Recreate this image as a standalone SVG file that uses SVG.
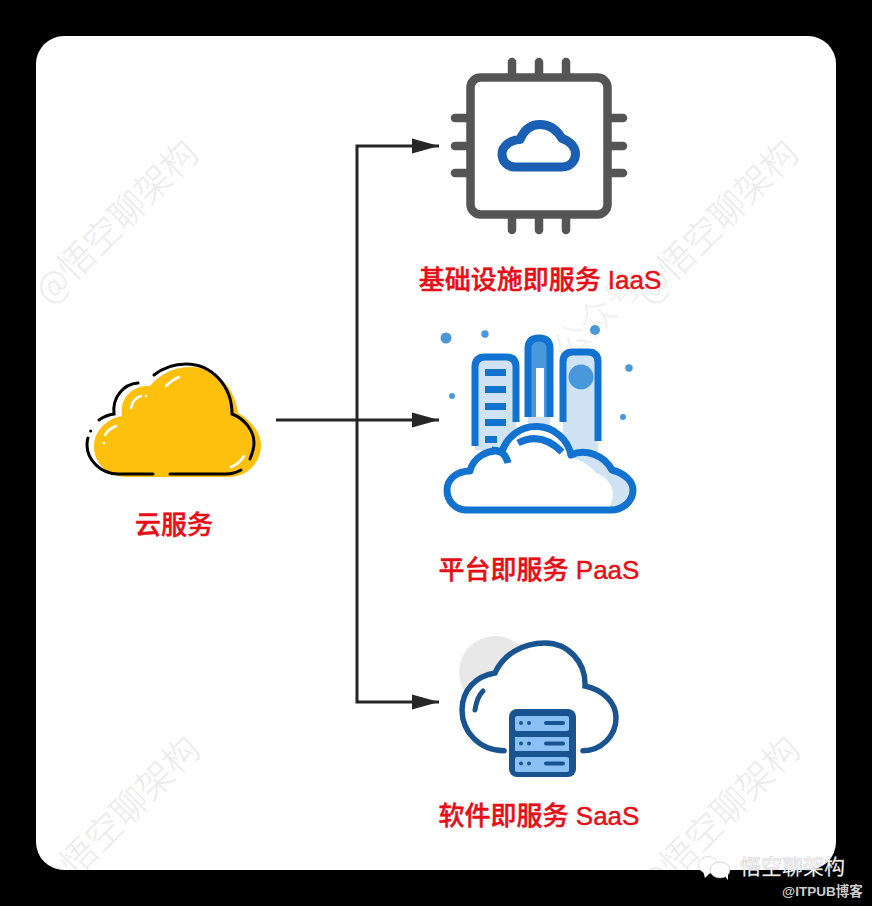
<svg xmlns="http://www.w3.org/2000/svg" width="872" height="906" viewBox="0 0 872 906">
<style>
.lbl{font-family:"Liberation Sans","Noto Sans CJK SC",sans-serif;font-size:26px;font-weight:500;fill:#e60f17;stroke:#e60f17;stroke-width:.45;text-anchor:middle}
.wm{font-family:"Noto Sans CJK SC",sans-serif;font-size:36px;font-weight:300;fill:#ebebeb}
.conn{fill:none;stroke:#262626;stroke-width:3}
.pin{stroke:#555;stroke-width:8.5;stroke-linecap:round;fill:none}
.pb{fill:none;stroke:#1272cf;stroke-width:7}
.bar{fill:#1272cf}
.dot{fill:#4a98dc}
.ink{fill:none;stroke:#000;stroke-width:3;stroke-linecap:round}
.hl{fill:none;stroke:#fff;stroke-width:2.5;stroke-linecap:round}
.row{fill:#8bc0f5}
.sd{fill:#1a5490}
.sl{fill:none;stroke:#1a5490;stroke-width:4;stroke-linecap:round}
</style>
<defs>
<marker id="arrow" markerUnits="userSpaceOnUse" markerWidth="28" markerHeight="18" refX="27" refY="9" orient="auto">
<path d="M0 1.500L27 9L0 16.500Z" fill="#262626"/>
</marker>
<clipPath id="card"><rect x="36" y="36" width="800" height="834" rx="28"/></clipPath>
</defs>
<rect width="872" height="906" fill="#000"/>
<rect x="36" y="36" width="800" height="834" rx="28" fill="#fff"/>
<g id="watermarks" clip-path="url(#card)">
<text class="wm" transform="translate(50,306) rotate(-45)">@悟空聊架构</text>
<text class="wm" transform="translate(650,306) rotate(-45)">@悟空聊架构</text>
<text class="wm" transform="translate(568,364) rotate(-45)" style="fill:#f0f0f0">公众号</text>
<text class="wm" transform="translate(652,902) rotate(-45)">@悟空聊架构</text>
<text class="wm" transform="translate(52,902) rotate(-45)">@悟空聊架构</text>
</g>
<g id="connectors">
<path class="conn" d="M276 420H439" marker-end="url(#arrow)"/>
<path class="conn" d="M357 420V146H439" marker-end="url(#arrow)"/>
<path class="conn" d="M357 420V702H439" marker-end="url(#arrow)"/>
</g>
<g id="cloud-service">
<path d="M126 477C108 477 94 463 94 447C94 431 106 419 122 416C119 398 133 385 150 386C160 374 174 367 191 367C215 367 235 387 238 413C250 420 261 432 261 445C261 463 247 477 228 477Z" fill="#fdc10d"/>
<path class="ink" d="M154 375C163 368 174 364 186 364C212 364 232 386 232 414C245 419 254 431 254 443C254 449 252 454 250 459"/>
<path class="ink" d="M241 470Q234 474 226 474H170"/>
<path class="ink" d="M153 474H118C101 474 87 460 87 445C87 442 87 440 88 438"/>
<circle cx="90.700" cy="431" r="1.500" fill="#000"/>
<path class="ink" d="M99 420Q106 415 114 414C112 398 123 384 138 383"/>
<path class="hl" d="M131 408C132 402 136 397 141 396"/>
<circle cx="146" cy="396" r="1.300" fill="#fff"/>
<path class="hl" d="M166 386C170 382 174 379 179 377"/>
<path class="hl" d="M105 435C107 431 111 428 116 426"/>
<circle cx="104" cy="443" r="1.300" fill="#fff"/>
<path class="hl" d="M231 467C236 465 241 461 244 456"/>
<text class="lbl" x="174" y="534">云服务</text>
</g>
<g id="iaas">
<rect x="470.500" y="77.500" width="137" height="137" rx="10" fill="#fff" stroke="#555" stroke-width="8.500"/>
<path class="pin" d="M512 62V73M539 62V73M566 62V73M512 219V230M539 219V230M566 219V230M455 118H466M455 146H466M455 173H466M612 118H623M612 146H623M612 173H623"/>
<path d="M515 167H562C570 167 575.500 161 575.500 154C575.500 147 570 141 562 138.500C557 130 549 124.500 540 124.500C531 124.500 524 130 520 139.500C510 140 502 146 502 154C502 161 507 167 515 167Z" fill="#fff" stroke="#1a5fb4" stroke-width="9" stroke-linejoin="round"/>
<text class="lbl" x="540" y="289">基础设施即服务 IaaS</text>
</g>
<g id="paas">
<circle class="dot" cx="446" cy="338" r="5.500"/>
<circle class="dot" cx="485" cy="334" r="3.700"/>
<circle class="dot" cx="595" cy="330" r="5"/>
<circle class="dot" cx="629" cy="368" r="3.700"/>
<circle class="dot" cx="452" cy="396" r="3"/>
<circle class="dot" cx="623" cy="417" r="3"/>
<path d="M475 446V367Q475 357 485 357H506Q516 357 516 367V450H475Z" fill="#cfe3f5"/>
<path class="pb" d="M475 446V367Q475 357 485 357H506Q516 357 516 367V422"/>
<rect class="bar" x="485" y="369" width="21" height="7"/>
<rect class="bar" x="485" y="386" width="21" height="7"/>
<rect class="bar" x="485" y="403" width="21" height="7"/>
<rect class="bar" x="485" y="419" width="21" height="7"/>
<rect class="bar" x="485" y="436" width="12" height="7"/>
<path d="M528 424V349Q528 338 539 338Q550 338 550 349V424Z" fill="#4a98dc"/>
<rect x="536" y="368" width="8" height="50" fill="#fff"/>
<rect x="528" y="417" width="22" height="10" fill="#cfe3f5"/>
<path class="pb" d="M528 417V349Q528 338 539 338Q550 338 550 349V417"/>
<path d="M563 452V362Q563 352 573 352H588Q598 352 598 362V452Z" fill="#cfe3f5"/>
<path class="pb" d="M563 422V362Q563 352 573 352H588Q598 352 598 362V441"/>
<circle cx="581" cy="377" r="12.500" fill="#4a98dc"/>
<path d="M467 510C455 510 447 501 447 490C447 479 457 471 470 471C473 458 488 448 502 452A35.600 35.600 0 0 1 571 455C585 448 604 455 612 470C624 473 633 481 633 490C633 502 622 510 611 510Z" fill="#fff"/>
<path d="M562 455C582 458 592 468 596 473C610 478 614 490 613 497C612 503 609 507 607 510H611C622 510 633 502 633 490C633 481 624 473 612 470C604 455 585 448 571 455Z" fill="#cfe3f5"/>
<path class="pb" d="M467 510C455 510 447 501 447 490C447 479 457 471 470 471C473 458 488 448 502 452A35.600 35.600 0 0 1 571 455C585 448 604 455 612 470C624 473 633 481 633 490C633 502 622 510 611 510Z" stroke-linejoin="round"/>
<path class="pb" d="M492 450Q505 450 508 463" stroke-width="6"/>
<path class="pb" d="M518 443Q541 431 562 452" stroke-width="6"/>
<text class="lbl" x="539" y="579">平台即服务 PaaS</text>
</g>
<g id="saas">
<circle cx="495" cy="672" r="36" fill="#e8e8e8"/>
<path d="M504 750.700C480 750.700 462 732 462 710C462 690 476 676 495 673C503 655 522 643 545 643C568 643 586 662 585 686C603 690 616 702 616 718C616 736 601 750.700 583 750.700Z" fill="#fff"/>
<path d="M504 750.700C480 750.700 462 732 462 710C462 690 476 676 495 673C503 655 522 643 545 643C568 643 586 662 585 686C603 690 616 702 616 718C616 736 601 750.700 583 750.700" fill="none" stroke="#1a5490" stroke-width="5.500" stroke-linecap="round"/>
<path d="M483 691C478 696 476 703 475 710" fill="none" stroke="#1a5490" stroke-width="5" stroke-linecap="round"/>
<rect class="sd" x="509" y="709" width="67" height="68" rx="8"/>
<rect class="row" x="515" y="716" width="54" height="15" rx="2"/>
<rect class="row" x="515" y="737" width="54" height="14"/>
<rect class="row" x="515" y="757" width="54" height="15" rx="2"/>
<circle class="sd" cx="521" cy="723" r="2"/><circle class="sd" cx="529" cy="723" r="2"/>
<circle class="sd" cx="521" cy="743.500" r="2"/><circle class="sd" cx="529" cy="743.500" r="2"/>
<circle class="sd" cx="521" cy="763.500" r="2"/><circle class="sd" cx="529" cy="763.500" r="2"/>
<path class="sl" d="M546 723H563M546 743.500H563M546 763.500H563"/>
<text class="lbl" x="539" y="825">软件即服务 SaaS</text>
</g>
<g id="credit">
<ellipse cx="708" cy="865" rx="9.500" ry="8.500" fill="#fff" stroke="#ccc" stroke-width="0.600"/>
<path d="M703 871L705 878L710 873Z" fill="#fff"/>
<ellipse cx="720" cy="870" rx="10" ry="8" fill="#fff" stroke="#bbb" stroke-width="0.600"/>
<path d="M724 875L728 880L728 873Z" fill="#fff"/>
<text x="740" y="874" font-family="Noto Sans CJK SC,sans-serif" font-size="21" fill="#fff" stroke="#aaa" stroke-width="0.300">悟空聊架构</text>
<text x="782" y="896" font-family="Liberation Sans,Noto Sans CJK SC,sans-serif" font-size="13.500" font-weight="700" fill="#ccc">@ITPUB博客</text>
</g>
</svg>
